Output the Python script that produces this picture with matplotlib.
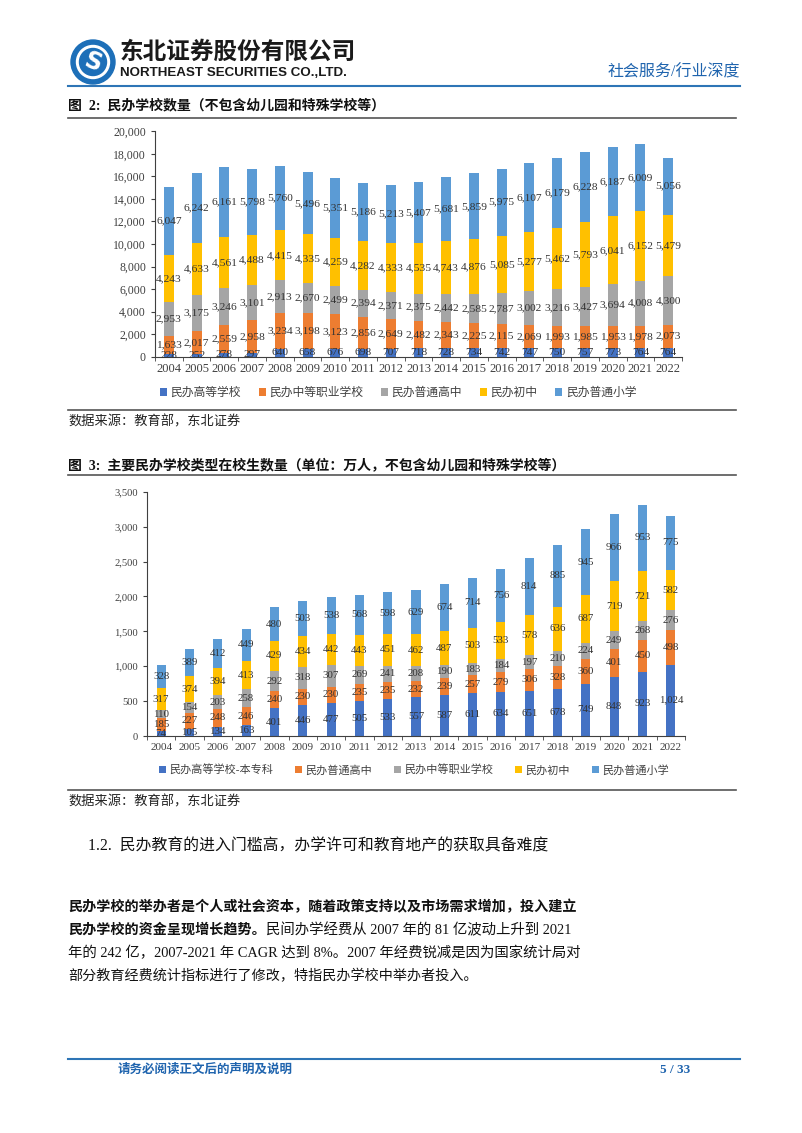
import matplotlib
matplotlib.use("Agg")
import matplotlib.pyplot as plt
from matplotlib.patches import Circle

plt.rcParams['font.family'] = ['Liberation Serif', 'Noto Sans CJK SC', 'DejaVu Sans']

years = [str(y) for y in range(2004, 2023)]

# 图2 民办学校数量（所）
schools_labels = ['民办高等学校', '民办中等职业学校', '民办普通高中', '民办初中', '民办普通小学']
higher_ed = [228, 252, 278, 297, 640, 658, 676, 698, 707, 718, 728, 734, 742, 747, 750, 757, 773, 764, 764]
vocational = [1633, 2017, 2559, 2958, 3234, 3198, 3123, 2856, 2649, 2482, 2343, 2225, 2115, 2069, 1993, 1985, 1953, 1978, 2073]
high_school = [2953, 3175, 3246, 3101, 2913, 2670, 2499, 2394, 2371, 2375, 2442, 2585, 2787, 3002, 3216, 3427, 3694, 4008, 4300]
junior = [4243, 4633, 4561, 4488, 4415, 4335, 4259, 4282, 4333, 4535, 4743, 4876, 5085, 5277, 5462, 5793, 6041, 6152, 5479]
primary = [6047, 6242, 6161, 5798, 5760, 5496, 5351, 5186, 5213, 5407, 5681, 5859, 5975, 6107, 6179, 6228, 6187, 6009, 5056]

# 图3 在校生数量（万人）
students_labels = ['民办高等学校-本专科', '民办普通高中', '民办中等职业学校', '民办初中', '民办普通小学']
stu_higher = [74, 105, 134, 163, 401, 446, 477, 505, 533, 557, 587, 611, 634, 651, 678, 749, 848, 923, 1024]
stu_high = [185, 227, 248, 246, 240, 230, 230, 235, 235, 232, 239, 257, 279, 306, 328, 360, 401, 450, 498]
stu_voc = [110, 154, 203, 258, 292, 318, 307, 269, 241, 208, 190, 183, 184, 197, 210, 224, 249, 268, 276]
stu_junior = [317, 374, 394, 413, 429, 434, 442, 443, 451, 462, 487, 503, 533, 578, 636, 687, 719, 721, 582]
stu_primary = [328, 389, 412, 449, 480, 503, 538, 568, 598, 629, 674, 714, 756, 814, 885, 945, 966, 953, 775]

colors = ['#4472C4', '#ED7D31', '#A5A5A5', '#FFC000', '#5B9BD5']
W, H = 802, 1133
BLUE = '#1F64AE'


def fig_rect(x0, y0, x1, y1):
    # pixel box -> figure fraction rect
    return [x0 / W, 1 - y1 / H, (x1 - x0) / W, (y1 - y0) / H]


def stacked(ax, series, labels, ymax, ystep, width, lab_size, tick_size, year_size):
    x = list(range(len(years)))
    bottom = [0] * len(years)
    handles = []
    for vals, lab, c in zip(series, labels, colors):
        h = ax.bar(x, vals, width, bottom=bottom, color=c, label=lab, zorder=2)
        handles.append(h)
        for i, v in enumerate(vals):
            ax.text(i, bottom[i] + v / 2, f'{v:,}', ha='center', va='center',
                    fontsize=lab_size, color='#333333', zorder=3)
        bottom = [b + v for b, v in zip(bottom, vals)]
    ax.set_xlim(-0.5, len(years) - 0.5)
    ax.set_ylim(0, ymax)
    ax.set_yticks(range(0, ymax + 1, ystep))
    ax.set_yticklabels([f'{v:,}' for v in range(0, ymax + 1, ystep)])
    ax.set_xticks(x)
    ax.set_xticklabels(years)
    ax.set_xticks([i - 0.5 for i in range(len(years) + 1)], minor=True)
    ax.tick_params(axis='x', which='major', length=0, labelsize=year_size, colors='#404040', pad=5)
    ax.tick_params(axis='x', which='minor', length=3, color='#404040', direction='out')
    ax.tick_params(axis='y', length=3, color='#404040', labelsize=tick_size, labelcolor='#404040')
    for s in ['top', 'right']:
        ax.spines[s].set_visible(False)
    for s in ['left', 'bottom']:
        ax.spines[s].set_color('#404040')
        ax.spines[s].set_linewidth(0.8)
    return handles


fig = plt.figure(figsize=(W / 100, H / 100), dpi=100)
ov = fig.add_axes([0, 0, 1, 1])
ov.set_xlim(0, W)
ov.set_ylim(H, 0)
ov.axis('off')

# header
ov.add_patch(Circle((93, 62), 22, color='#1D6FB8'))
ov.add_patch(Circle((93, 62), 16.5, color='white'))
ov.add_patch(Circle((93, 62), 13.5, color='#1D6FB8'))
ov.text(93, 62, 'S', ha='center', va='center', color='white', fontsize=17,
        fontweight='bold', family='DejaVu Sans', rotation=-20)
ov.text(120, 52, '东北证券股份有限公司', fontsize=17, fontweight='bold',
        family=['Noto Sans CJK SC'], va='center', ha='left', color='#1a1a1a')
ov.text(120, 73, 'NORTHEAST SECURITIES CO.,LTD.', fontsize=9.6, fontweight='bold',
        family='Liberation Sans', va='center', ha='left', color='#1a1a1a')
ov.text(740, 72, '社会服务/行业深度', fontsize=11.5, va='center', ha='right', color=BLUE)
ov.plot([68, 740], [86, 86], color='#2E75B6', lw=1.5)

# figure 2
ov.text(68, 105, '图  2:  民办学校数量（不包含幼儿园和特殊学校等）', fontsize=10,
        fontweight='bold', va='center', ha='left', color='#111111')
ov.plot([68, 736], [118, 118], color='#555555', lw=1.2)

ax1 = fig.add_axes(fig_rect(155, 131.5, 682, 356.5))
h1 = stacked(ax1, [higher_ed, vocational, high_school, junior, primary], schools_labels,
             20000, 2000, 0.36, 8.2, 8.5, 9)
fig.legend(h1, schools_labels, loc='center', bbox_to_anchor=(398 / W, 1 - 393 / H), ncol=5,
           frameon=False, fontsize=8.5, handlelength=0.6, handleheight=0.6,
           handletextpad=0.3, columnspacing=1.5, labelcolor='#404040')

ov.plot([68, 736], [410, 410], color='#555555', lw=1.2)
ov.text(68, 422, '数据来源：教育部，东北证券', fontsize=9.5, va='center', ha='left', color='#222222')

# figure 3
ov.text(68, 465, '图  3:  主要民办学校类型在校生数量（单位：万人，不包含幼儿园和特殊学校等）',
        fontsize=10, fontweight='bold', va='center', ha='left', color='#111111')
ov.plot([68, 736], [475, 475], color='#555555', lw=1.2)

ax2 = fig.add_axes(fig_rect(147, 491.7, 685, 736))
h2 = stacked(ax2, [stu_higher, stu_high, stu_voc, stu_junior, stu_primary], students_labels,
             3500, 500, 0.32, 7.8, 7.6, 8)
fig.legend(h2, students_labels, loc='center', bbox_to_anchor=(414 / W, 1 - 770 / H), ncol=5,
           frameon=False, fontsize=8, handlelength=0.6, handleheight=0.6,
           handletextpad=0.3, columnspacing=2.0, labelcolor='#404040')

ov.plot([68, 736], [790, 790], color='#555555', lw=1.2)
ov.text(68, 802, '数据来源：教育部，东北证券', fontsize=9.5, va='center', ha='left', color='#222222')

# body text
ov.text(88, 846, '1.2.  民办教育的进入门槛高，办学许可和教育地产的获取具备难度', fontsize=11.4,
        va='center', ha='left', color='#111111')
ov.text(68, 907, '民办学校的举办者是个人或社会资本，随着政策支持以及市场需求增加，投入建立',
        fontsize=10.15, fontweight='bold', va='center', ha='left', color='#111111')
t_b = ov.text(68, 930, '民办学校的资金呈现增长趋势。', fontsize=10.15, fontweight='bold',
              va='center', ha='left', color='#111111')
ov.annotate('民间办学经费从 2007 年的 81 亿波动上升到 2021', xy=(1, 0.5), xycoords=t_b,
            fontsize=10.4, va='center', ha='left', color='#111111')
ov.text(68, 953, '年的 242 亿，2007-2021 年 CAGR 达到 8%。2007 年经费锐减是因为国家统计局对',
        fontsize=10.35, va='center', ha='left', color='#111111')
ov.text(68, 976, '部分教育经费统计指标进行了修改，特指民办学校中举办者投入。',
        fontsize=10.15, va='center', ha='left', color='#111111')

# footer
ov.plot([68, 740], [1059, 1059], color='#2E75B6', lw=1.5)
ov.text(118, 1070, '请务必阅读正文后的声明及说明', fontsize=9, fontweight='bold',
        va='center', ha='left', color=BLUE)
ov.text(690, 1070, '5 / 33', fontsize=9.5, fontweight='bold', va='center', ha='right', color=BLUE)

fig.savefig('out.png', dpi=100)
